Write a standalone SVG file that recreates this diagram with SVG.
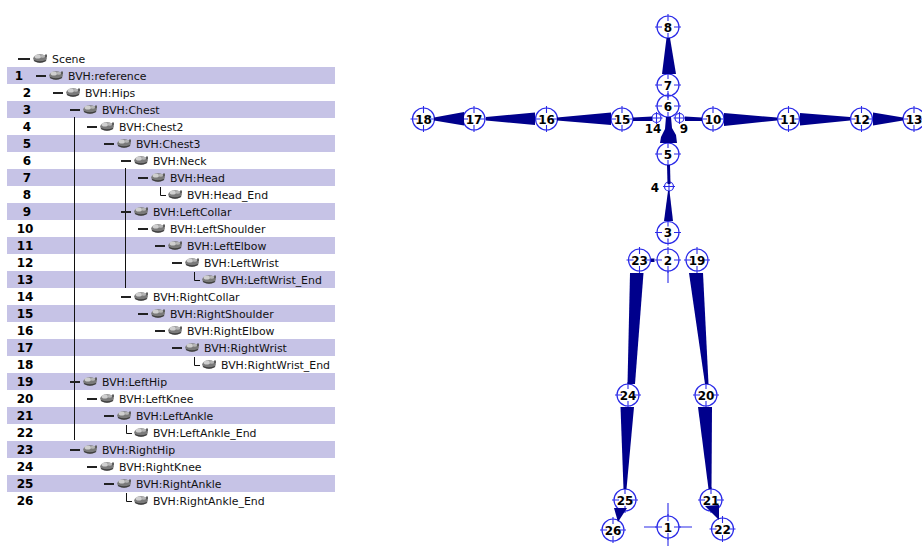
<svg xmlns="http://www.w3.org/2000/svg" xmlns:xlink="http://www.w3.org/1999/xlink" width="922" height="546" viewBox="0 0 922 546">
  <style>
    .band { fill: #c6c3e6; }
    .num { font-family: "DejaVu Sans", "Liberation Sans", sans-serif; font-weight: bold; font-size: 12px; fill: #000; text-anchor: middle; }
    .name { font-family: "DejaVu Sans", "Liberation Sans", sans-serif; font-size: 10.9px; fill: #111; }
    .dash { stroke: #222; stroke-width: 2; fill: none; }
    .tline { stroke: #111; stroke-width: 1; fill: none; }
    .ring { fill: none; stroke: #2a2ae8; stroke-width: 1.2; }
    .tick { stroke: #2a2ae8; stroke-width: 1.1; }
    .bone { fill: #00008c; }
    .jl { font-family: "DejaVu Sans", "Liberation Sans", sans-serif; font-weight: bold; font-size: 12px; fill: #000; text-anchor: middle; }
  </style>
  <defs>
    <!-- grey object icon used in the hierarchy -->
    <g id="ico">
      <ellipse cx="0" cy="0.5" rx="6.8" ry="4.3" fill="#7a7a7a"/>
      <ellipse cx="-2.2" cy="-1.4" rx="3.2" ry="2" fill="#cfcfcf"/>
      <ellipse cx="2.8" cy="-1.8" rx="2.2" ry="1.5" fill="#b5b5b5"/>
      <path d="M-6 2.5 Q0 5.5 6 2.5" stroke="#3f3f3f" stroke-width="1.3" fill="none"/>
      <rect x="5" y="-3.5" width="2" height="3" fill="#5e5e5e"/>
    </g>
    <!-- joint marker: ring with crosshair ticks -->
    <g id="joint">
      <circle r="11" class="ring"/>
      <path class="tick" d="M0 -13 V-6 M0 6 V13 M-13 0 H-6 M6 0 H13"/>
    </g>
    <g id="mini">
      <circle r="4.5" class="ring"/>
      <path class="tick" d="M0 -6 V6 M-6 0 H6"/>
    </g>
  </defs>

  <rect width="922" height="546" fill="#fff"/>

  <!-- hierarchy row bands -->
  <g id="bands">
    <rect class="band" x="7" y="67" width="328" height="17"/>
    <rect class="band" x="7" y="101" width="328" height="17"/>
    <rect class="band" x="7" y="135" width="328" height="17"/>
    <rect class="band" x="7" y="169" width="328" height="17"/>
    <rect class="band" x="7" y="203" width="328" height="17"/>
    <rect class="band" x="7" y="237" width="328" height="17"/>
    <rect class="band" x="7" y="271" width="328" height="17"/>
    <rect class="band" x="7" y="305" width="328" height="17"/>
    <rect class="band" x="7" y="339" width="328" height="17"/>
    <rect class="band" x="7" y="373" width="328" height="17"/>
    <rect class="band" x="7" y="407" width="328" height="17"/>
    <rect class="band" x="7" y="441" width="328" height="17"/>
    <rect class="band" x="7" y="475" width="328" height="17"/>
  </g>

  <!-- hierarchy tree lines -->
  <g id="tree-lines">
    <path class="tline" d="M74.5 117 V440"/>
    <path class="tline" d="M125.5 168 V288"/>
    <path class="tline" d="M160.5 187 V195.5 H166"/>
    <path class="tline" d="M194.5 272 V280.5 H200"/>
    <path class="tline" d="M194.5 357 V365.5 H200"/>
    <path class="tline" d="M126.5 425 V433.5 H132"/>
    <path class="tline" d="M126.5 493 V501.5 H132"/>
  </g>

  <!-- hierarchy rows -->
  <g id="row-scene"><path class="dash" d="M18 59 H30"/><use href="#ico" x="40" y="58"/><text class="name" x="52" y="63">Scene</text></g>
  <g id="row-1"><text class="num" x="19" y="80">1</text><path class="dash" d="M36 76 H46"/><use href="#ico" x="56" y="75"/><text class="name" x="68" y="80">BVH:reference</text></g>
  <g id="row-2"><text class="num" x="27" y="97">2</text><path class="dash" d="M53 93 H63"/><use href="#ico" x="73" y="92"/><text class="name" x="85" y="97">BVH:Hips</text></g>
  <g id="row-3"><text class="num" x="27" y="114">3</text><path class="dash" d="M70 110 H80"/><use href="#ico" x="90" y="109"/><text class="name" x="102" y="114">BVH:Chest</text></g>
  <g id="row-4"><text class="num" x="27" y="131">4</text><path class="dash" d="M87 127 H97"/><use href="#ico" x="107" y="126"/><text class="name" x="119" y="131">BVH:Chest2</text></g>
  <g id="row-5"><text class="num" x="27" y="148">5</text><path class="dash" d="M104 144 H114"/><use href="#ico" x="124" y="143"/><text class="name" x="136" y="148">BVH:Chest3</text></g>
  <g id="row-6"><text class="num" x="27" y="165">6</text><path class="dash" d="M121 161 H131"/><use href="#ico" x="141" y="160"/><text class="name" x="153" y="165">BVH:Neck</text></g>
  <g id="row-7"><text class="num" x="27" y="182">7</text><path class="dash" d="M138 178 H148"/><use href="#ico" x="158" y="177"/><text class="name" x="170" y="182">BVH:Head</text></g>
  <g id="row-8"><text class="num" x="27" y="199">8</text><use href="#ico" x="175" y="194"/><text class="name" x="187" y="199">BVH:Head_End</text></g>
  <g id="row-9"><text class="num" x="27" y="216">9</text><path class="dash" d="M121 212 H131"/><use href="#ico" x="141" y="211"/><text class="name" x="153" y="216">BVH:LeftCollar</text></g>
  <g id="row-10"><text class="num" x="25" y="233">10</text><path class="dash" d="M138 229 H148"/><use href="#ico" x="158" y="228"/><text class="name" x="170" y="233">BVH:LeftShoulder</text></g>
  <g id="row-11"><text class="num" x="25" y="250">11</text><path class="dash" d="M155 246 H165"/><use href="#ico" x="175" y="245"/><text class="name" x="187" y="250">BVH:LeftElbow</text></g>
  <g id="row-12"><text class="num" x="25" y="267">12</text><path class="dash" d="M172 263 H182"/><use href="#ico" x="192" y="262"/><text class="name" x="204" y="267">BVH:LeftWrist</text></g>
  <g id="row-13"><text class="num" x="25" y="284">13</text><use href="#ico" x="209" y="279"/><text class="name" x="221" y="284">BVH:LeftWrist_End</text></g>
  <g id="row-14"><text class="num" x="25" y="301">14</text><path class="dash" d="M121 297 H131"/><use href="#ico" x="141" y="296"/><text class="name" x="153" y="301">BVH:RightCollar</text></g>
  <g id="row-15"><text class="num" x="25" y="318">15</text><path class="dash" d="M138 314 H148"/><use href="#ico" x="158" y="313"/><text class="name" x="170" y="318">BVH:RightShoulder</text></g>
  <g id="row-16"><text class="num" x="25" y="335">16</text><path class="dash" d="M155 331 H165"/><use href="#ico" x="175" y="330"/><text class="name" x="187" y="335">BVH:RightElbow</text></g>
  <g id="row-17"><text class="num" x="25" y="352">17</text><path class="dash" d="M172 348 H182"/><use href="#ico" x="192" y="347"/><text class="name" x="204" y="352">BVH:RightWrist</text></g>
  <g id="row-18"><text class="num" x="25" y="369">18</text><use href="#ico" x="209" y="364"/><text class="name" x="221" y="369">BVH:RightWrist_End</text></g>
  <g id="row-19"><text class="num" x="25" y="386">19</text><path class="dash" d="M70 382 H80"/><use href="#ico" x="90" y="381"/><text class="name" x="102" y="386">BVH:LeftHip</text></g>
  <g id="row-20"><text class="num" x="25" y="403">20</text><path class="dash" d="M87 399 H97"/><use href="#ico" x="107" y="398"/><text class="name" x="119" y="403">BVH:LeftKnee</text></g>
  <g id="row-21"><text class="num" x="25" y="420">21</text><path class="dash" d="M104 416 H114"/><use href="#ico" x="124" y="415"/><text class="name" x="136" y="420">BVH:LeftAnkle</text></g>
  <g id="row-22"><text class="num" x="25" y="437">22</text><use href="#ico" x="141" y="432"/><text class="name" x="153" y="437">BVH:LeftAnkle_End</text></g>
  <g id="row-23"><text class="num" x="25" y="454">23</text><path class="dash" d="M70 450 H80"/><use href="#ico" x="90" y="449"/><text class="name" x="102" y="454">BVH:RightHip</text></g>
  <g id="row-24"><text class="num" x="25" y="471">24</text><path class="dash" d="M87 467 H97"/><use href="#ico" x="107" y="466"/><text class="name" x="119" y="471">BVH:RightKnee</text></g>
  <g id="row-25"><text class="num" x="25" y="488">25</text><path class="dash" d="M104 484 H114"/><use href="#ico" x="124" y="483"/><text class="name" x="136" y="488">BVH:RightAnkle</text></g>
  <g id="row-26"><text class="num" x="25" y="505">26</text><use href="#ico" x="141" y="500"/><text class="name" x="153" y="505">BVH:RightAnkle_End</text></g>

  <!-- skeleton joints -->
  <g id="joint-1"><use href="#joint" x="668" y="527"/><path class="tick" d="M644 527 H657 M679 527 H692 M668 503 V516 M668 538 V546"/><text class="jl" x="668" y="531.5">1</text></g>
  <g id="joint-2"><use href="#joint" x="668" y="260"/><path class="tick" d="M668 271 V283"/><text class="jl" x="668" y="264.5">2</text></g>
  <g id="joint-3"><use href="#joint" x="668" y="232.5"/><text class="jl" x="668" y="237">3</text></g>
  <g id="joint-4"><use href="#mini" x="669" y="186.5"/><text class="jl" x="655" y="191.5">4</text></g>
  <g id="joint-5"><use href="#joint" x="668" y="154"/><text class="jl" x="668" y="158.5">5</text></g>
  <g id="joint-6"><use href="#joint" x="668" y="106"/><text class="jl" x="668" y="110.5">6</text></g>
  <g id="joint-7"><use href="#joint" x="668" y="85"/><text class="jl" x="668" y="89.5">7</text></g>
  <g id="joint-8"><use href="#joint" x="668" y="27"/><text class="jl" x="668" y="31.5">8</text></g>
  <g id="joint-9"><use href="#mini" x="679.5" y="118"/><text class="jl" x="684" y="133">9</text></g>
  <g id="joint-10"><use href="#joint" x="713" y="119"/><text class="jl" x="713" y="123.5">10</text></g>
  <g id="joint-11"><use href="#joint" x="788.5" y="119"/><text class="jl" x="788.5" y="123.5">11</text></g>
  <g id="joint-12"><use href="#joint" x="861.5" y="119"/><text class="jl" x="861.5" y="123.5">12</text></g>
  <g id="joint-13"><use href="#joint" x="914" y="119"/><text class="jl" x="914" y="123.5">13</text></g>
  <g id="joint-14"><use href="#mini" x="656.5" y="118"/><text class="jl" x="653" y="133">14</text></g>
  <g id="joint-15"><use href="#joint" x="622" y="119"/><text class="jl" x="622" y="123.5">15</text></g>
  <g id="joint-16"><use href="#joint" x="546.5" y="119"/><text class="jl" x="546.5" y="123.5">16</text></g>
  <g id="joint-17"><use href="#joint" x="474" y="119"/><text class="jl" x="474" y="123.5">17</text></g>
  <g id="joint-18"><use href="#joint" x="423.5" y="119"/><text class="jl" x="423.5" y="123.5">18</text></g>
  <g id="joint-19"><use href="#joint" x="697" y="260"/><text class="jl" x="697" y="264.5">19</text></g>
  <g id="joint-20"><use href="#joint" x="706" y="395"/><text class="jl" x="706" y="399.5">20</text></g>
  <g id="joint-21"><use href="#joint" x="711" y="500"/><text class="jl" x="711" y="504.5">21</text></g>
  <g id="joint-22"><use href="#joint" x="722.5" y="529"/><text class="jl" x="722.5" y="533.5">22</text></g>
  <g id="joint-23"><use href="#joint" x="639.5" y="260"/><text class="jl" x="639.5" y="264.5">23</text></g>
  <g id="joint-24"><use href="#joint" x="628" y="395"/><text class="jl" x="628" y="399.5">24</text></g>
  <g id="joint-25"><use href="#joint" x="625" y="500"/><text class="jl" x="625" y="504.5">25</text></g>
  <g id="joint-26"><use href="#joint" x="613" y="530"/><text class="jl" x="613" y="534.5">26</text></g>

  <!-- bones: wide at the parent joint, tapering to the child -->
  <g id="bones">
    <polygon class="bone" points="666.5,38 670,38 676,74 662,74"/>
    <polygon class="bone" points="666,117 671,117 672,128 676,135 677,143 660,143 661,137 665,129"/>
    <polygon class="bone" points="667,165 670,165 670.5,184 667.5,184"/>
    <polygon class="bone" points="664,221 673,221 669.5,191 668,191"/>
    <rect class="bone" x="651" y="258.5" width="3.5" height="3.5"/>
    <polygon class="bone" points="633,117.5 652,116.5 652,121 633,121"/>
    <polygon class="bone" points="685,116.5 702,117.5 702,121 685,121"/>
    <polygon class="bone" points="557,117.5 557,120.5 611,125 611,112.5"/>
    <polygon class="bone" points="486,117 486,120.5 535,125 535,112.5"/>
    <polygon class="bone" points="434,117.5 434,120.5 464,125.5 464,112"/>
    <polygon class="bone" points="724,113 724,126 777,120.5 777,117.5"/>
    <polygon class="bone" points="800,113 800,125.5 850,120.5 850,117"/>
    <polygon class="bone" points="873,112.5 873,125.5 903,120.5 903,117.5"/>
    <polygon class="bone" points="689,273 703,273 708.5,384 705,384"/>
    <polygon class="bone" points="630,273 643.5,273 635,384 627.5,384"/>
    <polygon class="bone" points="698,407 712,407 711.5,489 708.5,489"/>
    <polygon class="bone" points="620.5,407 634,407 626.5,489 623.5,489"/>
    <polygon class="bone" points="705,506 719,505 719,520"/>
    <polygon class="bone" points="614,508 627,508 618,522"/>
  </g>
</svg>
